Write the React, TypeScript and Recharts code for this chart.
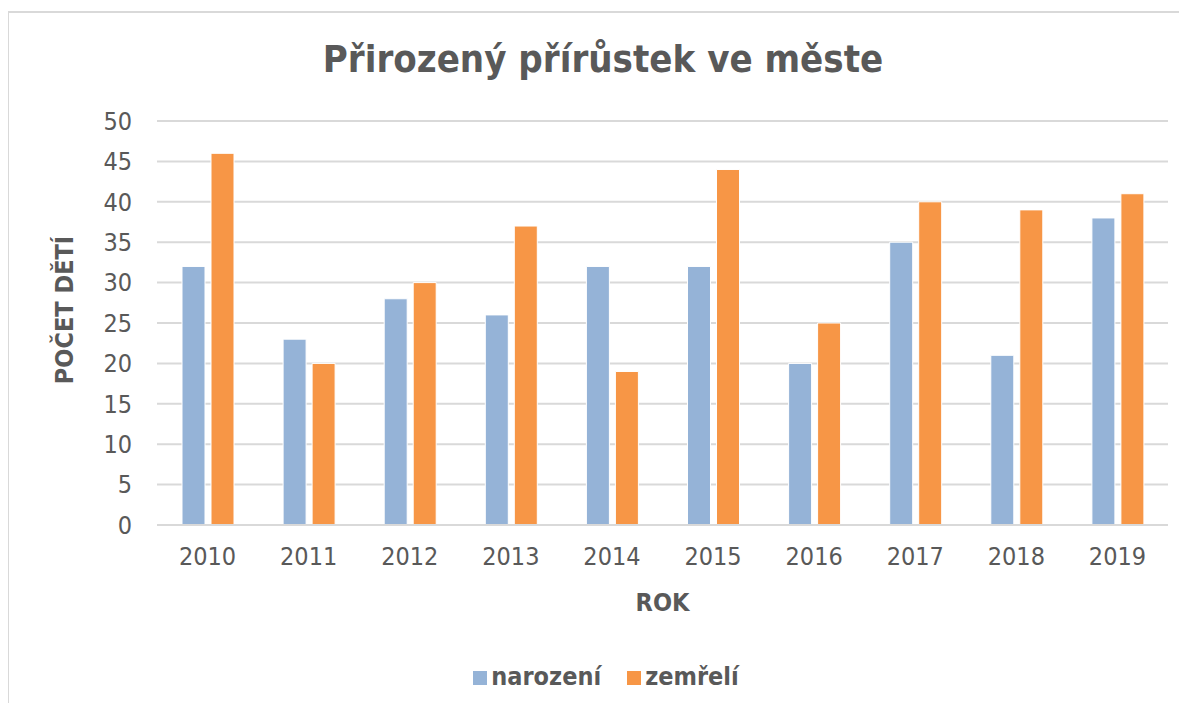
import React from "react";
import { Bar, BarChart, CartesianGrid, Label, Legend, XAxis, YAxis } from "recharts";

const years = ["2010", "2011", "2012", "2013", "2014", "2015", "2016", "2017", "2018", "2019"];
const narozeni = [32, 23, 28, 26, 32, 32, 20, 35, 21, 38];
const zemreli = [46, 20, 30, 37, 19, 44, 25, 40, 39, 41];
const yTicks = [0, 5, 10, 15, 20, 25, 30, 35, 40, 45, 50];

const data = years.map((rok, i) => ({ rok, narozeni: narozeni[i], zemreli: zemreli[i] }));

const FONT = "'DejaVu Sans Condensed', 'DejaVu Sans', sans-serif";
const INK = "#595959";
const GRID = "#d9d9d9";

export default function App() {
  return (
    <div style={{ position: "relative", width: 1187, height: 711, margin: -8, background: "#fff", fontFamily: FONT }}>
      <div
        style={{
          position: "absolute",
          left: 7,
          top: 11,
          right: 0,
          bottom: 0,
          borderTop: `2px solid ${GRID}`,
          borderLeft: `2px solid ${GRID}`,
        }}
      />
      <div
        style={{
          position: "absolute",
          left: 0,
          width: 1206,
          top: 40,
          textAlign: "center",
          fontSize: 38,
          lineHeight: "38px",
          fontWeight: "bold",
          color: INK,
        }}
      >
        Přirozený přírůstek ve měste
      </div>
      <BarChart
        width={1187}
        height={711}
        data={data}
        margin={{ top: 121, right: 19, bottom: 136, left: 0 }}
        barGap={6}
        barSize={23}
        style={{ position: "absolute", left: 0, top: 0 }}
      >
        <CartesianGrid vertical={false} stroke={GRID} strokeWidth={2} />
        <XAxis
          dataKey="rok"
          height={50}
          tickLine={false}
          tickSize={0}
          tickMargin={22}
          axisLine={{ stroke: GRID, strokeWidth: 2 }}
          tick={{ fill: INK, fontSize: 25, fontFamily: FONT }}
        >
          <Label
            content={({ viewBox }: any) => (
              <text
                x={viewBox.x + viewBox.width / 2}
                y={611}
                textAnchor="middle"
                fill={INK}
                fontSize={25}
                fontWeight="bold"
                fontFamily={FONT}
              >
                ROK
              </text>
            )}
          />
        </XAxis>
        <YAxis
          width={157}
          domain={[0, 50]}
          ticks={yTicks}
          interval={0}
          tickLine={false}
          axisLine={false}
          tickSize={0}
          tickMargin={25}
          tick={{ fill: INK, fontSize: 25, fontFamily: FONT }}
        >
          <Label
            content={() => (
              <text
                x={73}
                y={310}
                transform="rotate(-90 73 310)"
                textAnchor="middle"
                fill={INK}
                fontSize={25}
                fontWeight="bold"
                fontFamily={FONT}
              >
                POČET DĚTÍ
              </text>
            )}
          />
        </YAxis>
        <Legend
          verticalAlign="middle"
          align="center"
          layout="horizontal"
          iconType="square"
          iconSize={14}
          wrapperStyle={{ top: 662, left: 8, width: 1206, fontSize: 25, fontWeight: "bold", fontFamily: FONT }}
          formatter={(value: string, _entry: any, index: number) => (
            <span style={{ color: INK, paddingRight: index === 0 ? 16 : 0 }}>{value}</span>
          )}
        />
        <Bar dataKey="narozeni" name="narození" fill="#95b3d7" stroke="#fff" strokeWidth={1} isAnimationActive={false} />
        <Bar dataKey="zemreli" name="zemřelí" fill="#f79646" stroke="#fff" strokeWidth={1} isAnimationActive={false} />
      </BarChart>
    </div>
  );
}
